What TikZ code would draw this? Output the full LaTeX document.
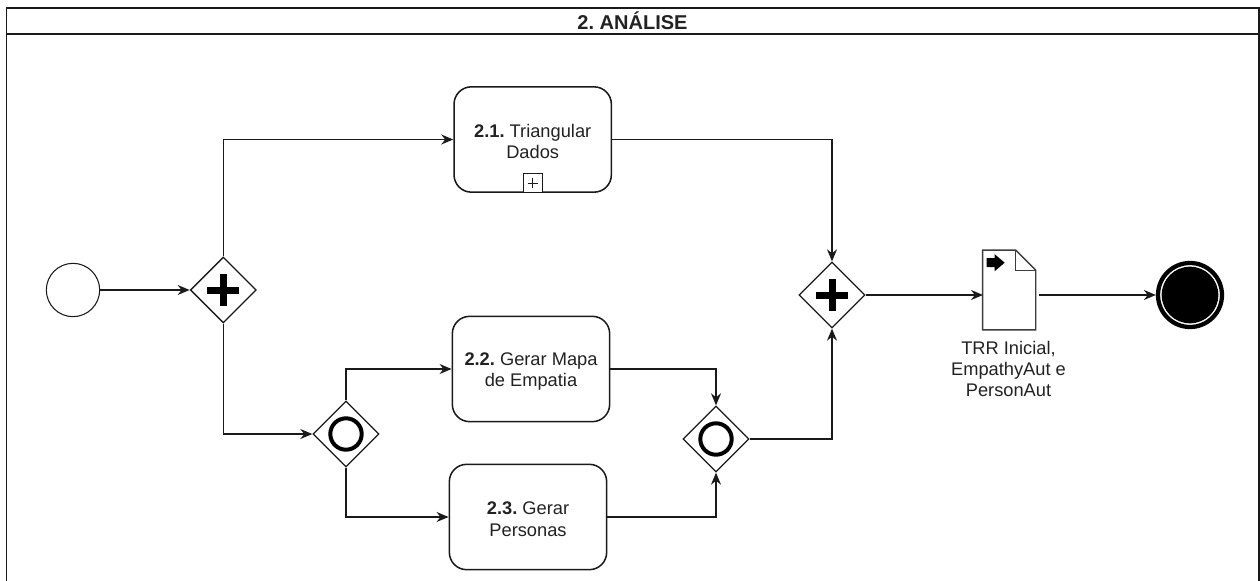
\documentclass[tikz,border=0pt]{standalone}
\usepackage{fontspec}
\setmainfont{Liberation Sans}
\usetikzlibrary{shapes.geometric,arrows.meta,calc}
\definecolor{ink}{HTML}{1A1A1A}
\definecolor{txt}{HTML}{222222}
\newcommand{\lowerline}{\rule{0pt}{13pt}}
\tikzset{
  x=0.75pt,y=-0.75pt,
  label text/.style={font=\fontsize{13.7pt}{15.9pt}\selectfont\frenchspacing,text=txt,align=center},
  taskbox/.style={draw=ink,line width=1.15pt,rounded corners=13pt,fill=white,minimum width=118pt,minimum height=79pt,inner sep=0pt,label text},
  gate/.style={draw=ink,line width=1pt,diamond,aspect=1,minimum size=49.5pt,inner sep=0pt,fill=white},
  flow/.style={draw=ink,line width=1pt,-{Stealth[length=9pt,width=7.5pt]}},
  ringmark/.style={draw=black,line width=3pt,fill=none},
}
\begin{document}
\begin{tikzpicture}
\useasboundingbox (0,0) rectangle (1260,581);
% pool frame
\draw[ink,line width=1.1pt] (6.5,582) -- (6.5,8) -- (1259,8) -- (1259,582);
\draw[ink,line width=1.1pt] (6.5,34) -- (1259,34);
\node[font=\fontsize{15pt}{16pt}\selectfont\bfseries\frenchspacing,text=txt,inner sep=0pt,anchor=base] (title) at (632.5,29.5) {2. ANÁLISE};
% events
\node[circle,draw=ink,line width=.8pt,fill=white,minimum size=40pt,inner sep=0pt] (start) at (73,290) {};
\node[circle,draw=black,line width=3.2pt,fill=white,minimum size=48pt,inner sep=0pt] (end) at (1190,295) {};
\node[circle,fill=black,minimum size=42.5pt,inner sep=0pt] (endfill) at (1190,295) {};
% gateways
\node[gate] (g1) at (223.3,290) {};
\node[gate] (g2) at (346,434) {};
\node[gate] (j1) at (832,295) {};
\node[gate] (j2) at (716,439) {};
\foreach \n in {g1,j1}{
  \fill[black] ($(\n.center)+(-16,-3.5)$) rectangle ($(\n.center)+(16,3.5)$);
  \fill[black] ($(\n.center)+(-3.5,-16)$) rectangle ($(\n.center)+(3.5,16)$);
}
\foreach \n in {g2,j2}{
  \draw[ringmark] (\n.center) circle (15.7);
}
% tasks
\node[taskbox] (t1) at (532.7,139.5) {\lowerline\textbf{2.1.} Triangular\\Dados};
\node[taskbox] (t2) at (531,369) {\lowerline\textbf{2.2.} Gerar Mapa\\de Empatia};
\node[taskbox] (t3) at (528,517) {\lowerline\textbf{2.3.} Gerar\\Personas};
\node[draw=ink,line width=.8pt,fill=white,minimum size=14pt,inner sep=0pt,anchor=south] (sub) at (t1.south) {};
\draw[ink,line width=.6pt] ($(sub.center)+(-5,0)$) -- ($(sub.center)+(5,0)$);
\draw[ink,line width=.6pt] ($(sub.center)+(0,-5)$) -- ($(sub.center)+(0,5)$);
% document
\node[minimum width=39.4pt,minimum height=59.3pt,inner sep=0pt] (doc) at (1009.2,290) {};
\draw[ink!85,line width=1.1pt,fill=white] (doc.south west) -- (doc.north west) -- ($(doc.north east)+(-20,0)$) -- ($(doc.north east)+(0,20)$) -- (doc.south east) -- cycle;
\draw[ink!85,line width=.9pt] ($(doc.north east)+(-20,0)$) -- ($(doc.north east)+(-20,20)$) -- ($(doc.north east)+(0,20)$);
\fill[black] ($(doc.north west)+(4,8)$) -- ($(doc.north west)+(12,8)$) -- ($(doc.north west)+(12,4)$) -- ($(doc.north west)+(22,12.5)$) -- ($(doc.north west)+(12,21)$) -- ($(doc.north west)+(12,17)$) -- ($(doc.north west)+(4,17)$) -- cycle;
\node[label text,inner sep=0pt,anchor=north] (doclabel) at (1008.5,341) {TRR Inicial,\\EmpathyAut e\\PersonAut};
\coordinate (docin) at (983,295);
\coordinate (docout) at (1039,295);
% flows
\draw[flow] (start.east) -- (g1.west);
\draw[flow] (g1.north) |- (t1.west);
\draw[flow] (g1.south) |- (g2.west);
\draw[flow] (g2.north) |- (t2.west);
\draw[flow] (g2.south) |- (t3.west);
\draw[flow] (t1.east) -| (j1.north);
\draw[flow] (t2.east) -| (j2.north);
\draw[flow] (t3.east) -| (j2.south);
\draw[flow] (j2.east) -| (j1.south);
\draw[flow] (j1.east) -- (docin);
\draw[flow] (docout) -- (end.west);
\end{tikzpicture}
\end{document}
